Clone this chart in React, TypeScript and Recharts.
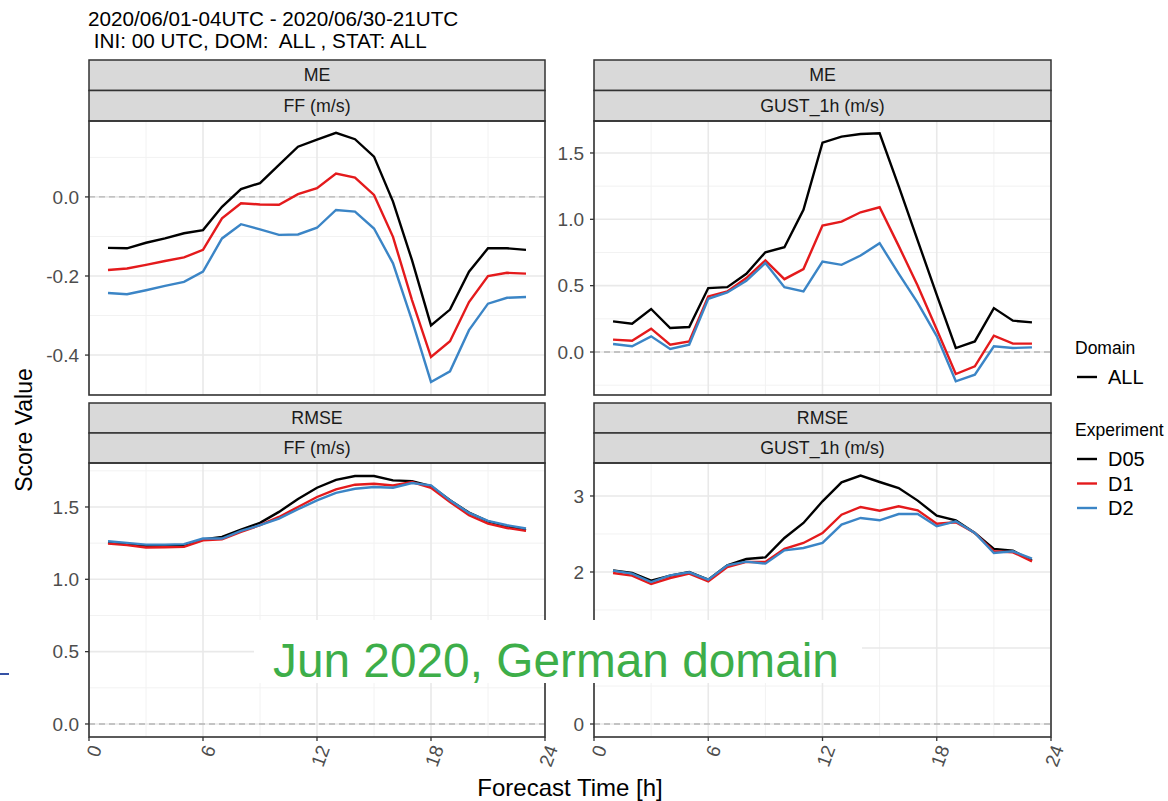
import React from "react";
import {
  LineChart,
  Line,
  XAxis,
  YAxis,
  CartesianGrid,
  ReferenceLine,
} from "recharts";

// Forecast lead times (hours)
const hours = [1, 2, 3, 4, 5, 6, 7, 8, 9, 10, 11, 12, 13, 14, 15, 16, 17, 18, 19, 20, 21, 22, 23];

const experiments = ["D05", "D1", "D2"];
const domains = ["ALL"];
const xTicks = [0, 6, 12, 18, 24];
const xMinor = [3, 9, 15, 21];

// ME, FF (m/s)
const meFfD05 = [-0.129, -0.13, -0.116, -0.105, -0.092, -0.084, -0.025, 0.02, 0.035, 0.081, 0.127, 0.145, 0.162, 0.146, 0.102, -0.012, -0.16, -0.325, -0.285, -0.189, -0.13, -0.13, -0.134];
const meFfD1 = [-0.185, -0.181, -0.172, -0.162, -0.153, -0.134, -0.054, -0.016, -0.019, -0.02, 0.007, 0.022, 0.059, 0.049, 0.005, -0.101, -0.261, -0.405, -0.365, -0.266, -0.2, -0.192, -0.194];
const meFfD2 = [-0.243, -0.246, -0.236, -0.225, -0.215, -0.189, -0.105, -0.069, -0.082, -0.096, -0.095, -0.078, -0.033, -0.037, -0.08, -0.168, -0.312, -0.468, -0.441, -0.337, -0.27, -0.255, -0.253];

// ME, GUST_1h (m/s)
const meGustD05 = [0.231, 0.213, 0.324, 0.181, 0.188, 0.482, 0.489, 0.589, 0.752, 0.79, 1.071, 1.578, 1.623, 1.643, 1.648, 1.25, 0.84, 0.43, 0.03, 0.08, 0.331, 0.236, 0.223];
const meGustD1 = [0.093, 0.085, 0.176, 0.055, 0.08, 0.419, 0.456, 0.557, 0.69, 0.549, 0.625, 0.953, 0.983, 1.053, 1.091, 0.8, 0.5, 0.17, -0.166, -0.108, 0.123, 0.063, 0.063];
const meGustD2 = [0.06, 0.043, 0.118, 0.023, 0.055, 0.401, 0.449, 0.537, 0.67, 0.489, 0.456, 0.682, 0.657, 0.727, 0.82, 0.59, 0.37, 0.12, -0.221, -0.171, 0.043, 0.03, 0.035];

// RMSE, FF (m/s)
const rmseFfD05 = [1.252, 1.243, 1.231, 1.234, 1.238, 1.275, 1.293, 1.344, 1.39, 1.466, 1.555, 1.633, 1.688, 1.714, 1.714, 1.684, 1.679, 1.645, 1.546, 1.461, 1.401, 1.367, 1.339];
const rmseFfD1 = [1.247, 1.236, 1.22, 1.222, 1.224, 1.27, 1.277, 1.328, 1.374, 1.431, 1.5, 1.569, 1.622, 1.654, 1.661, 1.649, 1.672, 1.633, 1.535, 1.443, 1.385, 1.355, 1.335];
const rmseFfD2 = [1.263, 1.252, 1.24, 1.24, 1.243, 1.282, 1.282, 1.335, 1.374, 1.42, 1.484, 1.546, 1.597, 1.626, 1.638, 1.633, 1.666, 1.649, 1.546, 1.459, 1.404, 1.374, 1.351];

// RMSE, GUST_1h (m/s)
const rmseGustD05 = [2.022, 1.987, 1.886, 1.952, 2.0, 1.899, 2.088, 2.171, 2.193, 2.447, 2.645, 2.93, 3.18, 3.268, 3.184, 3.105, 2.939, 2.741, 2.68, 2.513, 2.303, 2.281, 2.149];
const rmseGustD1 = [1.987, 1.952, 1.842, 1.921, 1.978, 1.877, 2.066, 2.132, 2.132, 2.303, 2.382, 2.513, 2.754, 2.855, 2.807, 2.864, 2.811, 2.636, 2.654, 2.513, 2.272, 2.259, 2.14];
const rmseGustD2 = [2.018, 1.978, 1.868, 1.956, 1.996, 1.899, 2.088, 2.136, 2.11, 2.285, 2.316, 2.382, 2.623, 2.711, 2.68, 2.763, 2.763, 2.601, 2.667, 2.513, 2.25, 2.272, 2.175];

const FONT = '"Liberation Sans", Arial, Helvetica, sans-serif';
const COLORS: Record<string, string> = { D05: "#000000", D1: "#e41a1c", D2: "#3b85c6" };
const BORDER = "#333333";

const buildRows = (d05: number[], d1: number[], d2: number[]) =>
  hours.map((h, i) => ({ h, D05: d05[i], D1: d1[i], D2: d2[i] }));

// facet layout (page pixels)
const COLS = [
  { left: 89, width: 456 },
  { left: 594, width: 457 },
];
const ROWS = [
  { stripTop: 60, top: 121, height: 274 },
  { stripTop: 403, top: 463, height: 274 },
];
const YW = 50;
const XH = 50;
const RPAD = 24; // room for the last rotated x label

type PanelDef = {
  stat: string;
  variable: string;
  col: number;
  row: number;
  rows: any[];
  domain: [number, number];
  ticks: number[];
  minor: number[];
  fmt: (v: number) => string;
};

const oneDec = (v: number) => v.toFixed(1);
const noDec = (v: number) => v.toFixed(0);

const panels: PanelDef[] = [
  {
    stat: "ME", variable: "FF (m/s)", col: 0, row: 0,
    rows: buildRows(meFfD05, meFfD1, meFfD2),
    domain: [-0.501, 0.192], ticks: [-0.4, -0.2, 0.0], minor: [-0.5, -0.3, -0.1, 0.1], fmt: oneDec,
  },
  {
    stat: "ME", variable: "GUST_1h (m/s)", col: 1, row: 0,
    rows: buildRows(meGustD05, meGustD1, meGustD2),
    domain: [-0.324, 1.741], ticks: [0, 0.5, 1.0, 1.5], minor: [-0.25, 0.25, 0.75, 1.25], fmt: oneDec,
  },
  {
    stat: "RMSE", variable: "FF (m/s)", col: 0, row: 1,
    rows: buildRows(rmseFfD05, rmseFfD1, rmseFfD2),
    domain: [-0.09, 1.804], ticks: [0, 0.5, 1.0, 1.5], minor: [0.25, 0.75, 1.25, 1.75], fmt: oneDec,
  },
  {
    stat: "RMSE", variable: "GUST_1h (m/s)", col: 1, row: 1,
    rows: buildRows(rmseGustD05, rmseGustD1, rmseGustD2),
    domain: [-0.171, 3.434], ticks: [0, 1, 2, 3], minor: [0.5, 1.5, 2.5], fmt: noDec,
  },
];

const RotatedTick = ({ x, y, payload }: any) => {
  const ax = x + 7;
  const ay = y + 3;
  return (
    <text
      x={ax}
      y={ay}
      transform={`rotate(-70 ${ax} ${ay})`}
      textAnchor="end"
      dominantBaseline="central"
      fontSize={19}
      fontFamily={FONT}
      fill="#4d4d4d"
    >
      {payload.value}
    </text>
  );
};

const Panel = ({ p }: { p: PanelDef }) => {
  const c = COLS[p.col];
  const r = ROWS[p.row];
  const showX = p.row === 1;
  return (
    <div style={{ position: "absolute", left: c.left - YW, top: r.top }}>
      <LineChart
        width={YW + c.width + RPAD}
        height={r.height + (showX ? XH : 0)}
        data={p.rows}
        margin={{ top: 0, right: RPAD, bottom: 0, left: 0 }}
      >
        <CartesianGrid
          horizontalValues={p.minor}
          verticalValues={xMinor}
          stroke="#f2f2f2"
          strokeWidth={1}
        />
        <CartesianGrid
          horizontalValues={p.ticks}
          verticalValues={xTicks}
          stroke="#e9e9e9"
          strokeWidth={1.6}
        />
        <XAxis
          type="number"
          dataKey="h"
          domain={[0, 24]}
          ticks={xTicks}
          hide={!showX}
          height={XH}
          axisLine={false}
          tickSize={4}
          tickMargin={2}
          tickLine={{ stroke: BORDER, strokeWidth: 1.3 }}
          tick={<RotatedTick />}
          interval={0}
        />
        <YAxis
          type="number"
          domain={p.domain}
          ticks={p.ticks}
          width={YW}
          axisLine={false}
          tickSize={4}
          tickMargin={6}
          tickLine={{ stroke: BORDER, strokeWidth: 1.3 }}
          tick={{ fill: "#4d4d4d", fontSize: 19, fontFamily: FONT }}
          tickFormatter={p.fmt}
          interval={0}
        />
        <ReferenceLine y={0} stroke="#b5b5b5" strokeWidth={1.3} strokeDasharray="6 4" />
        {experiments.map((e) => (
          <Line
            key={e}
            type="linear"
            dataKey={e}
            stroke={COLORS[e]}
            strokeWidth={2.4}
            dot={false}
            isAnimationActive={false}
          />
        ))}
      </LineChart>
    </div>
  );
};

const Overlay = () => (
  <svg
    width={1168}
    height={801}
    style={{ position: "absolute", left: 0, top: 0, pointerEvents: "none" }}
    fontFamily={FONT}
  >
    {/* plot title */}
    <text x={88} y={26} fontSize={20.7} fill="#000">
      2020/06/01-04UTC - 2020/06/30-21UTC
    </text>
    <text x={88} y={48} fontSize={20.7} fill="#000" style={{ whiteSpace: "pre" }}>
      {" INI: 00 UTC, DOM:  ALL , STAT: ALL"}
    </text>

    {/* facet strips and panel borders */}
    {panels.map((p, i) => {
      const c = COLS[p.col];
      const r = ROWS[p.row];
      const mid = (r.top - r.stripTop) / 2;
      return (
        <g key={i}>
          <rect x={c.left} y={r.stripTop} width={c.width} height={mid} fill="#d9d9d9" stroke={BORDER} strokeWidth={1.5} />
          <rect x={c.left} y={r.stripTop + mid} width={c.width} height={mid} fill="#d9d9d9" stroke={BORDER} strokeWidth={1.5} />
          <text x={c.left + c.width / 2} y={r.stripTop + mid / 2} textAnchor="middle" dominantBaseline="central" fontSize={17.8} fill="#1a1a1a">
            {p.stat}
          </text>
          <text x={c.left + c.width / 2} y={r.stripTop + mid * 1.5} textAnchor="middle" dominantBaseline="central" fontSize={17.8} fill="#1a1a1a">
            {p.variable}
          </text>
          <rect x={c.left} y={r.top} width={c.width} height={r.height} fill="none" stroke={BORDER} strokeWidth={1.6} />
        </g>
      );
    })}

    {/* axis titles */}
    <text x={570} y={796} textAnchor="middle" fontSize={24} fill="#000">
      Forecast Time [h]
    </text>
    <text x={32} y={430} textAnchor="middle" fontSize={23} fill="#000" transform="rotate(-90 32 430)">
      Score Value
    </text>

    {/* legends */}
    <text x={1075} y={348} dominantBaseline="central" fontSize={17.5} fill="#000">
      Domain
    </text>
    {domains.map((d, i) => (
      <g key={d}>
        <line x1={1077} x2={1097} y1={377 + i * 24} y2={377 + i * 24} stroke="#000" strokeWidth={2.4} />
        <text x={1108} y={377 + i * 24} dominantBaseline="central" fontSize={20} fill="#000">
          {d}
        </text>
      </g>
    ))}
    <text x={1075} y={430} dominantBaseline="central" fontSize={17.5} fill="#000">
      Experiment
    </text>
    {experiments.map((e, i) => (
      <g key={e}>
        <line x1={1077} x2={1097} y1={459 + i * 24.5} y2={459 + i * 24.5} stroke={COLORS[e]} strokeWidth={2.4} />
        <text x={1108} y={459 + i * 24.5} dominantBaseline="central" fontSize={20} fill="#000">
          {e}
        </text>
      </g>
    ))}

    {/* caption box */}
    <rect x={254} y={620} width={608} height={63} fill="#ffffff" />
    <text x={273} y={677} fontSize={47.8} fill="#3dae49">
      Jun 2020, German domain
    </text>
    <line x1={0} x2={9} y1={674} y2={674} stroke="#3552a5" strokeWidth={2} />
  </svg>
);

export default function App() {
  return (
    <div
      style={{
        position: "absolute",
        left: 0,
        top: 0,
        width: 1168,
        height: 801,
        background: "#ffffff",
        fontFamily: FONT,
      }}
    >
      {panels.map((p, i) => (
        <Panel key={i} p={p} />
      ))}
      <Overlay />
    </div>
  );
}
